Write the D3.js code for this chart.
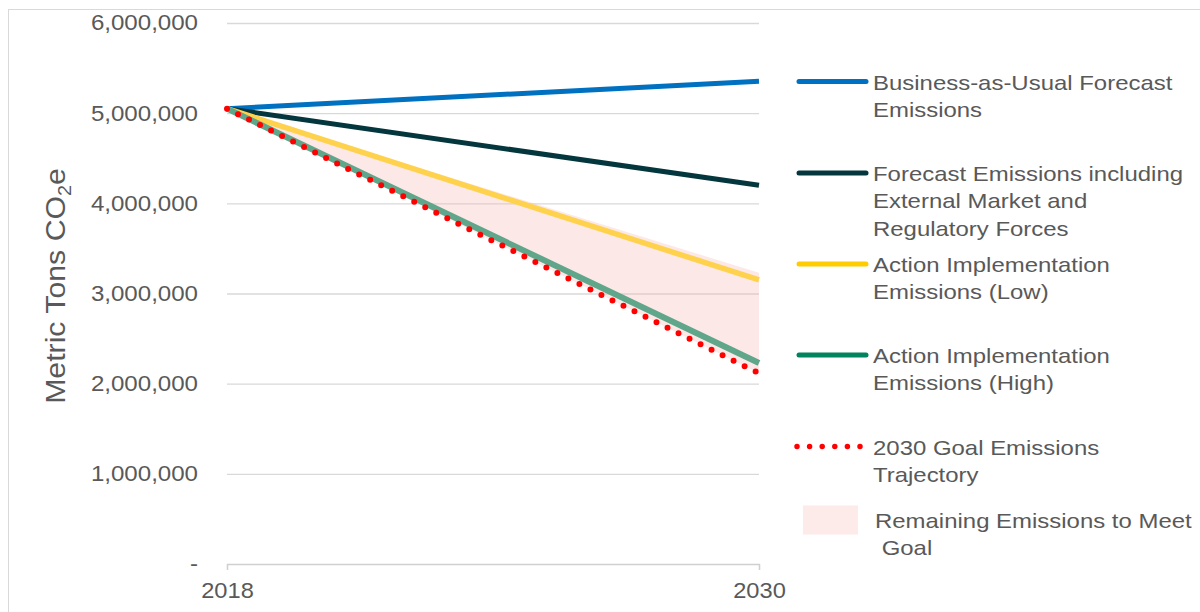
<!DOCTYPE html>
<html>
<head>
<meta charset="utf-8">
<script src="https://cdn.jsdelivr.net/npm/d3@7"></script>
<style>
  body { margin: 0; background: #fff; }
  text { font-family: "Liberation Sans", Arial, sans-serif; fill: #595959; }
</style>
</head>
<body>
<svg id="chart"></svg>
<script>
// chart data
var years = [2018, 2030];
var bauValues = [5050000, 5355000];
var externalValues = [5050000, 4200000];
var lowValues = [5050000, 3150000];
var highValues = [5050000, 2230000];
var goalValues = [5050000, 2115000];
var remainingTop = [5050000, 3230000];
var yTicks = [0, 1000000, 2000000, 3000000, 4000000, 5000000, 6000000];

var legendLabels = [
  ['Business-as-Usual Forecast', 'Emissions'],
  ['Forecast Emissions including', 'External Market and', 'Regulatory Forces'],
  ['Action Implementation', 'Emissions (Low)'],
  ['Action Implementation', 'Emissions (High)'],
  ['2030 Goal Emissions', 'Trajectory'],
  ['Remaining Emissions to Meet', ' Goal']
];

document.addEventListener('DOMContentLoaded', () => {
  var size = { width: 1200, height: 612 };
  var margin = { top: 23, left: 227, right: 441, bottom: 48 };
  var width = size.width - margin.left - margin.right;
  var height = size.height - margin.top - margin.bottom;

  // stretch text a bit wider, the source font runs wide
  var stretch = (sel, k) => sel.each(function () {
    var len = this.getComputedTextLength();
    d3.select(this).attr('textLength', len * k).attr('lengthAdjust', 'spacingAndGlyphs');
  });

  var svg = d3.select('#chart')
    .attr('width', size.width)
    .attr('height', size.height);

  // outer chart border
  svg.append('rect')
    .attr('x', 8.5).attr('y', 9.5)
    .attr('width', 1300).attr('height', 700)
    .attr('fill', 'none')
    .attr('stroke', '#d9d9d9');

  var chart = svg.append('g')
    .attr('transform', `translate(${ margin.left }, ${ margin.top })`);

  var x = d3.scaleLinear().domain(d3.extent(years)).range([0, width]);
  var y = d3.scaleLinear().domain([0, 6000000]).range([height, 0]);

  var yAxis = d3.axisLeft(y)
    .tickValues(yTicks)
    .tickSizeInner(-width)
    .tickSizeOuter(0)
    .tickPadding(29)
    .tickFormat(d => d === 0 ? '-' : d3.format(',')(d));

  var gy = chart.append('g').attr('class', 'axis y').call(yAxis);
  gy.select('.domain').remove();
  gy.selectAll('.tick line').attr('stroke', '#d9d9d9').attr('stroke-width', 1.3)
    .filter(d => d === 0).remove();
  gy.selectAll('.tick text')
    .attr('font-size', 21.5)
    .attr('fill', '#595959')
    .call(stretch, 1.12);

  var xAxis = d3.axisBottom(x)
    .tickValues(years)
    .tickFormat(d3.format('d'))
    .tickSize(6)
    .tickPadding(13);

  var gx = chart.append('g')
    .attr('class', 'axis x')
    .attr('transform', `translate(0, ${ height })`)
    .call(xAxis);
  gx.select('.domain').attr('stroke', '#d0d0d0').attr('stroke-width', 1.3);
  gx.selectAll('.tick line').attr('stroke', '#d0d0d0').attr('stroke-width', 1.3);
  gx.selectAll('.tick text')
    .attr('font-size', 21.5)
    .attr('fill', '#595959')
    .call(stretch, 1.1);

  // shaded remaining emissions
  var area = d3.area()
    .x((d, i) => x(years[i]))
    .y0((d, i) => y(goalValues[i]))
    .y1(d => y(d));

  chart.append('path')
    .datum(remainingTop)
    .attr('d', area)
    .attr('fill', '#f4b6ae')
    .attr('fill-opacity', 0.3);

  var line = d3.line().x((d, i) => x(years[i])).y(d => y(d));

  var series = [
    { values: bauValues, color: '#0070c0', lineColor: '#0070c0', w: 5 },
    { values: externalValues, color: '#04363d', lineColor: '#04363d', w: 5 },
    { values: lowValues, color: '#ffcc00', lineColor: '#ffd24d', w: 5.5 },
    { values: highValues, color: '#00845f', lineColor: '#5fa68b', w: 6 }
  ];

  chart.selectAll('.series')
    .data(series)
    .enter().append('path')
      .attr('class', 'series')
      .attr('d', d => line(d.values))
      .attr('fill', 'none')
      .attr('stroke', d => d.lineColor)
      .attr('stroke-width', d => d.w);

  chart.append('path')
    .attr('d', line(goalValues))
    .attr('fill', 'none')
    .attr('stroke', '#ff0000')
    .attr('stroke-width', 6)
    .attr('stroke-linecap', 'round')
    .attr('stroke-dasharray', '0 12.3');

  // legend
  var legendY = [81.5, 173, 264, 355, 446.5, 520];
  var legend = svg.append('g').attr('class', 'legend');

  series.forEach((s, i) => {
    legend.append('line')
      .attr('x1', 799).attr('x2', 866)
      .attr('y1', legendY[i]).attr('y2', legendY[i])
      .attr('stroke', s.color)
      .attr('stroke-width', 5)
      .attr('stroke-linecap', 'round');
  });

  legend.append('line')
    .attr('x1', 797).attr('x2', 862)
    .attr('y1', legendY[4]).attr('y2', legendY[4])
    .attr('stroke', '#ff0000')
    .attr('stroke-width', 5.5)
    .attr('stroke-linecap', 'round')
    .attr('stroke-dasharray', '0 12.6');

  legend.append('rect')
    .attr('x', 803).attr('y', legendY[5] - 14.5)
    .attr('width', 55).attr('height', 29)
    .attr('fill', '#fcebe9');

  legendLabels.forEach((lines, i) => {
    lines.forEach((t, j) => {
      legend.append('text')
        .attr('x', i === 5 ? 875 : 873)
        .attr('y', legendY[i] + 8 + j * 27.3)
        .attr('font-size', 21)
        .attr('xml:space', 'preserve')
        .style('white-space', 'pre')
        .text(t)
        .call(stretch, 1.14);
    });
  });

  // y axis title
  var title = svg.append('text')
    .attr('transform', 'translate(65, 286) rotate(-90)')
    .attr('text-anchor', 'middle')
    .attr('font-size', 27.5);
  title.append('tspan').text('Metric Tons CO');
  title.append('tspan').attr('font-size', 18).attr('dy', 6).text('2');
  title.append('tspan').attr('dy', -6).text('e');
  title.call(stretch, 1.1);
});
</script>
</body>
</html>
